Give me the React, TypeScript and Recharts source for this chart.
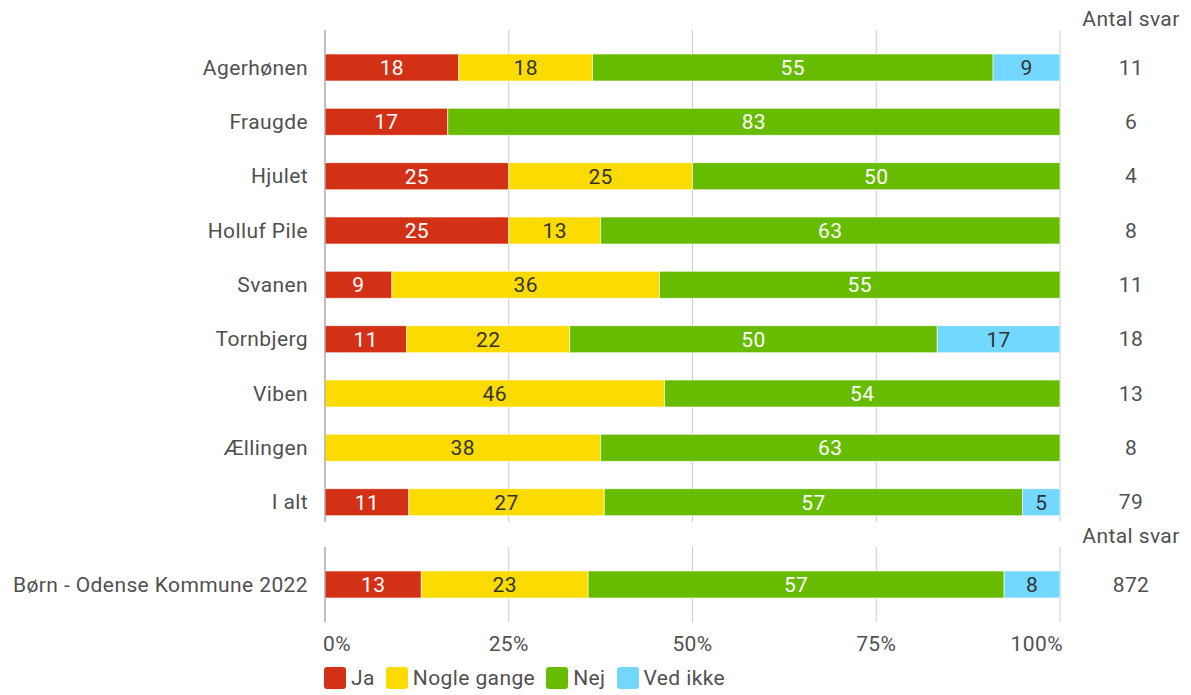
import { BarChart, Bar, XAxis, YAxis, CartesianGrid, LabelList } from 'recharts';

const categories = ['Agerhønen', 'Fraugde', 'Hjulet', 'Holluf Pile', 'Svanen', 'Tornbjerg', 'Viben', 'Ællingen', 'I alt'];
const ja = [18.2, 16.7, 25, 25, 9.1, 11.1, 0, 0, 11.4];
const nogleGange = [18.2, 0, 25, 12.5, 36.4, 22.2, 46.2, 37.5, 26.6];
const nej = [54.5, 83.3, 50, 62.5, 54.5, 50, 53.8, 62.5, 56.9];
const vedIkke = [9.1, 0, 0, 0, 0, 16.7, 0, 0, 5.1];
const antalSvar = [11, 6, 4, 8, 11, 18, 13, 8, 79];

const totalCategories = ['Børn - Odense Kommune 2022'];
const totalJa = [13.1];
const totalNogleGange = [22.7];
const totalNej = [56.6];
const totalVedIkke = [7.6];
const totalAntalSvar = [872];

const xTicks = [0, 25, 50, 75, 100];

const series = [
  { key: 'ja', name: 'Ja', color: '#D33115', text: '#fff' },
  { key: 'nogle', name: 'Nogle gange', color: '#FCDC00', text: '#333' },
  { key: 'nej', name: 'Nej', color: '#68BC00', text: '#fff' },
  { key: 'ved', name: 'Ved ikke', color: '#73D8FF', text: '#333' },
];

const topData = categories.map((name, i) => ({
  name, ja: ja[i], nogle: nogleGange[i], nej: nej[i], ved: vedIkke[i], n: antalSvar[i],
}));
const bottomData = totalCategories.map((name, i) => ({
  name, ja: totalJa[i], nogle: totalNogleGange[i], nej: totalNej[i], ved: totalVedIkke[i], n: totalAntalSvar[i],
}));

const textColor = '#505050';
const font = 'Roboto, sans-serif';
const fs = 21;
const ls = '0.4px';
const fmt = (v: any) => (v ? String(Math.round(Number(v))) : '');

function renderBars() {
  return series.map((s) => (
    <Bar key={s.key} dataKey={s.key} name={s.name} stackId="a" yAxisId="left" fill={s.color}
      stroke="rgba(255,255,255,0.6)" strokeWidth={1} barSize={27} isAnimationActive={false}>
      <LabelList dataKey={s.key} position="center" fill={s.text} fontSize={fs} fontFamily={font}
        style={{ letterSpacing: ls }} formatter={fmt} />
    </Bar>
  ));
}

function makeRightTick(data: any[]) {
  return (props: any) => {
    const row = data.find((d) => d.name === props.payload.value);
    return (
      <text x={props.x + 71} y={props.y} dy="0.355em" textAnchor="middle" fill={textColor} fontSize={fs}
        fontFamily={font} style={{ letterSpacing: ls }}>
        {row ? row.n : ''}
      </text>
    );
  };
}

const XTick = (props: any) => {
  const { x, y, payload, index } = props;
  const anchor = index === 0 ? 'start' : index === xTicks.length - 1 ? 'end' : 'middle';
  return (
    <text x={index === 0 ? x - 2 : index === xTicks.length - 1 ? x + 3 : x} y={y} dy="0.71em" textAnchor={anchor}
      fill={textColor} fontSize={fs} fontFamily={font} style={{ letterSpacing: ls }}>
      {payload.value}%
    </text>
  );
};

const headerStyle: any = {
  position: 'absolute', left: 1131, transform: 'translate(-50%, -50%)', color: textColor, fontSize: fs,
  letterSpacing: ls, whiteSpace: 'nowrap',
};

const yTick = { fill: textColor, fontSize: fs, fontFamily: font, style: { letterSpacing: ls } };

export default function App() {
  return (
    <div style={{ position: 'absolute', left: 0, top: 0, width: 1191, height: 695, background: '#fff', fontFamily: font }}>
      <div style={{ ...headerStyle, top: 19 }}>Antal svar</div>
      <div style={{ ...headerStyle, top: 536 }}>Antal svar</div>

      <div style={{ position: 'absolute', left: 0, top: 0 }}>
        <BarChart width={1191} height={530} data={topData} layout="vertical" barCategoryGap={0}
          margin={{ top: 30, right: 0, bottom: 8, left: 0 }}>
          <CartesianGrid horizontal={false} stroke="#cccccc" yAxisId="left" />
          <XAxis type="number" domain={[0, 100]} ticks={xTicks} hide allowDataOverflow />
          <YAxis yAxisId="left" type="category" dataKey="name" width={325} padding={{ top: 10, bottom: -7 }}
            tickLine={false} tickSize={0} tickMargin={17} axisLine={{ stroke: '#999999' }} tick={yTick} />
          <YAxis yAxisId="right" orientation="right" type="category" dataKey="name" width={131}
            padding={{ top: 10, bottom: -7 }} tickLine={false} tickSize={0} tickMargin={0} axisLine={false}
            tick={makeRightTick(topData)} />
          {renderBars()}
        </BarChart>
      </div>

      <div style={{ position: 'absolute', left: 0, top: 530 }}>
        <BarChart width={1191} height={132} data={bottomData} layout="vertical" barCategoryGap={0}
          margin={{ top: 17, right: 0, bottom: 0, left: 0 }}>
          <CartesianGrid horizontal={false} stroke="#cccccc" yAxisId="left" />
          <XAxis type="number" domain={[0, 100]} ticks={xTicks} height={40} axisLine={false} tickLine={false}
            tickSize={0} tickMargin={14} tick={<XTick />} allowDataOverflow />
          <YAxis yAxisId="left" type="category" dataKey="name" width={325}
            tickLine={false} tickSize={0} tickMargin={17} axisLine={{ stroke: '#999999' }} tick={yTick} />
          <YAxis yAxisId="right" orientation="right" type="category" dataKey="name" width={131}
            tickLine={false} tickSize={0} tickMargin={0} axisLine={false} tick={makeRightTick(bottomData)} />
          {renderBars()}
        </BarChart>
      </div>

      <div style={{ position: 'absolute', left: 324, top: 667, display: 'flex', alignItems: 'center', gap: 11 }}>
        {series.map((s) => (
          <div key={s.key} style={{ display: 'flex', alignItems: 'center', gap: 5 }}>
            <div style={{ width: 22, height: 22, borderRadius: 3, background: s.color }} />
            <span style={{ color: textColor, fontSize: fs, letterSpacing: ls, lineHeight: '22px' }}>{s.name}</span>
          </div>
        ))}
      </div>
    </div>
  );
}
